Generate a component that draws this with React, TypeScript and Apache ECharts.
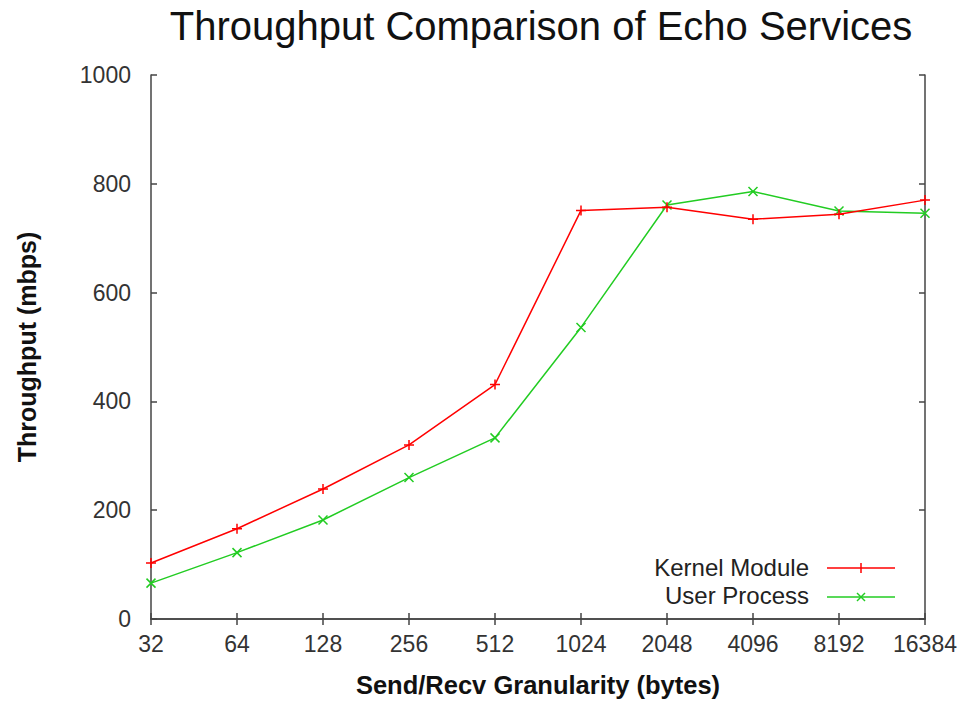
import React, { useEffect, useRef } from "react";
import * as echarts from "echarts";

const categories = ["32", "64", "128", "256", "512", "1024", "2048", "4096", "8192", "16384"];
const kernelModule = [103, 166, 239, 320, 431, 751, 757, 735, 744, 770];
const userProcess = [66, 122, 182, 260, 333, 536, 761, 786, 750, 746];
const seriesNames = ["Kernel Module", "User Process"];

const PLUS = "path://M0,-1L0,1M-1,0L1,0";
const CROSS = "path://M-1,-1L1,1M-1,1L1,-1";
const FONT = "'Liberation Sans', Arial, sans-serif";

export default function App() {
  const ref = useRef<HTMLDivElement>(null);
  useEffect(() => {
    if (!ref.current) return;
    const chart = echarts.init(ref.current, null, { renderer: "svg" });
    const axisLine = { show: true, lineStyle: { color: "#444", width: 1.5 } };
    const tick = { show: true, inside: true, length: 6, lineStyle: { color: "#444", width: 1.5 } };
    chart.setOption({
      animation: false,
      backgroundColor: "#fff",
      textStyle: { fontFamily: FONT },
      title: {
        text: "Throughput Comparison of Echo Services",
        left: 536,
        top: 1,
        textAlign: "center",
        textStyle: { fontSize: 40, fontWeight: "normal", color: "#111", fontFamily: FONT },
      },
      grid: { left: 151, right: 36, top: 75, bottom: 85 },
      xAxis: [
        {
          type: "category",
          data: categories,
          boundaryGap: false,
          position: "bottom",
          axisLine,
          axisTick: { ...tick, alignWithLabel: true },
          axisLabel: { fontSize: 23, color: "#333", margin: 13, fontFamily: FONT },
          name: "Send/Recv Granularity (bytes)",
          nameLocation: "middle",
          nameGap: 53,
          nameTextStyle: { fontSize: 25.5, fontWeight: "bold", color: "#111", fontFamily: FONT },
          splitLine: { show: false },
        },
        {
          type: "category",
          data: categories,
          boundaryGap: false,
          position: "top",
          axisLine,
          axisTick: tick,
          axisLabel: { show: false },
          splitLine: { show: false },
        },
      ],
      yAxis: [
        {
          type: "value",
          min: 0,
          max: 1000,
          interval: 200,
          position: "left",
          axisLine,
          axisTick: tick,
          axisLabel: { fontSize: 23, color: "#333", margin: 20, fontFamily: FONT, formatter: (v: number) => String(v) },
          splitLine: { show: false },
          name: "Throughput (mbps)",
          nameLocation: "middle",
          nameGap: 112,
          nameRotate: 90,
          nameTextStyle: { fontSize: 25, fontWeight: "bold", color: "#111", fontFamily: FONT },
        },
        {
          type: "value",
          min: 0,
          max: 1000,
          interval: 200,
          position: "right",
          axisLine,
          axisTick: tick,
          axisLabel: { show: false },
          splitLine: { show: false },
        },
      ],
      series: [
        {
          name: seriesNames[0],
          type: "line",
          data: kernelModule,
          symbol: PLUS,
          symbolSize: 10,
          showAllSymbol: true,
          lineStyle: { color: "#ff0000", width: 1.5 },
          itemStyle: { color: "transparent", borderColor: "#ff0000", borderWidth: 1.5 },
          z: 3,
        },
        {
          name: seriesNames[1],
          type: "line",
          data: userProcess,
          symbol: CROSS,
          symbolSize: 9,
          showAllSymbol: true,
          lineStyle: { color: "#22cc22", width: 1.5 },
          itemStyle: { color: "transparent", borderColor: "#22cc22", borderWidth: 1.5 },
          z: 2,
        },
      ],
      graphic: [
        {
          type: "text",
          x: 809,
          y: 567,
          style: { text: seriesNames[0], fontSize: 24, fill: "#222", fontFamily: FONT, textAlign: "right", textVerticalAlign: "middle" },
        },
        {
          type: "text",
          x: 809,
          y: 595,
          style: { text: seriesNames[1], fontSize: 24, fill: "#222", fontFamily: FONT, textAlign: "right", textVerticalAlign: "middle" },
        },
        { type: "line", shape: { x1: 827, y1: 568, x2: 895, y2: 568 }, style: { stroke: "#ff0000", lineWidth: 1.5 } },
        { type: "line", shape: { x1: 861, y1: 563, x2: 861, y2: 573 }, style: { stroke: "#ff0000", lineWidth: 1.5 } },
        { type: "line", shape: { x1: 827, y1: 597, x2: 895, y2: 597 }, style: { stroke: "#22cc22", lineWidth: 1.5 } },
        { type: "line", shape: { x1: 857, y1: 593, x2: 865, y2: 601 }, style: { stroke: "#22cc22", lineWidth: 1.5 } },
        { type: "line", shape: { x1: 857, y1: 601, x2: 865, y2: 593 }, style: { stroke: "#22cc22", lineWidth: 1.5 } },
      ],
    });
    return () => chart.dispose();
  }, []);
  return <div ref={ref} style={{ width: 961, height: 704, position: "absolute", left: 0, top: 0 }} />;
}
